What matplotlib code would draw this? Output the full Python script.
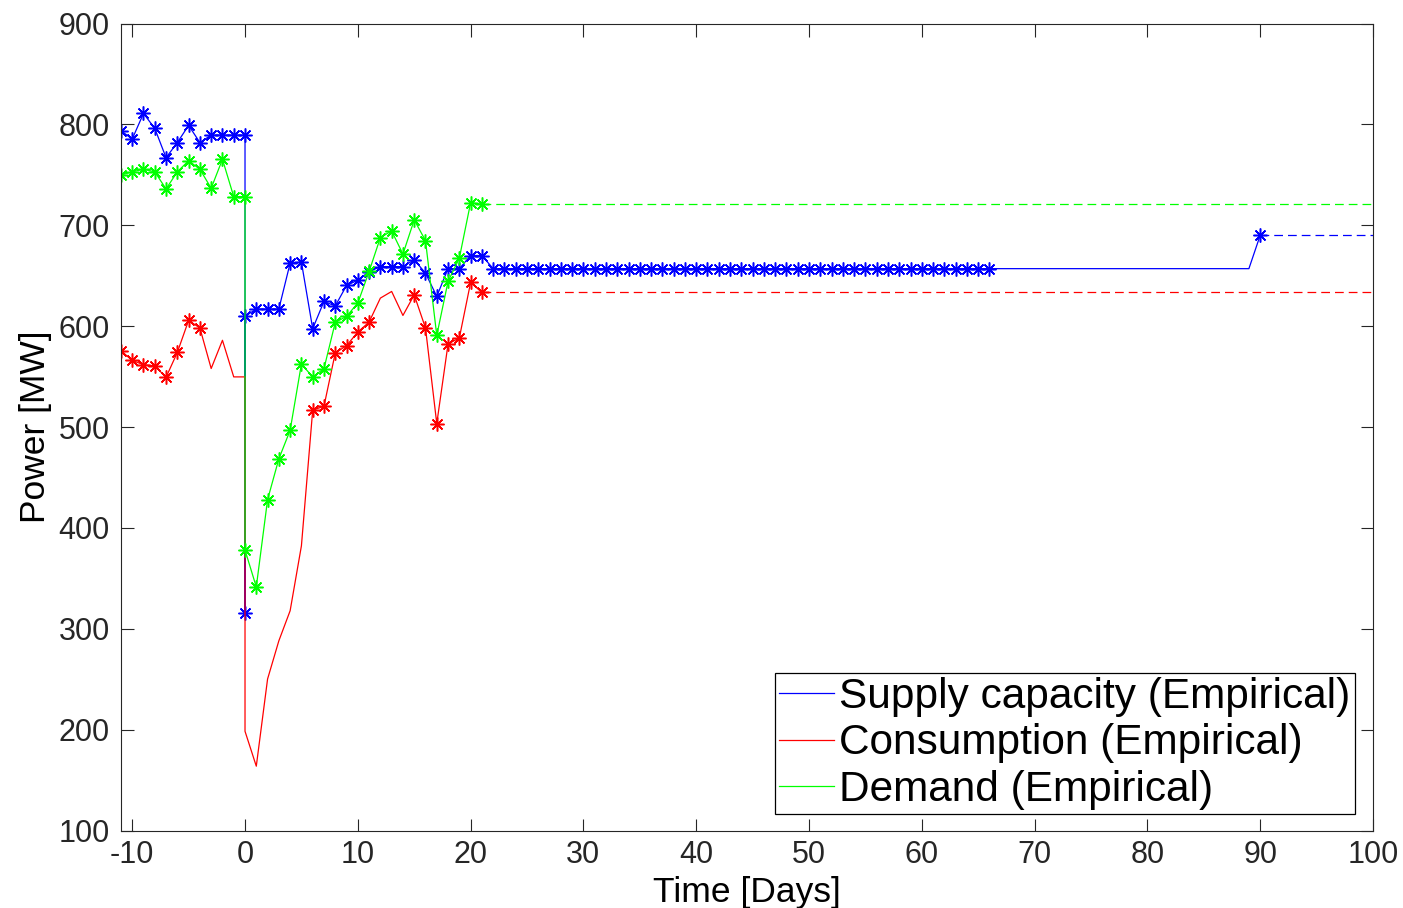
import matplotlib
matplotlib.use("Agg")
import matplotlib.pyplot as plt
from matplotlib.lines import Line2D

plt.rcParams["font.family"] = ["Liberation Sans", "DejaVu Sans"]
plt.rcParams["axes.unicode_minus"] = False

# supply capacity (blue) - two extra points at day 0 for the drop
supply_days = list(range(-11, 1)) + [0, 0] + list(range(1, 22)) + list(range(22, 67)) + [89, 90]
supply_values = [
    793.7, 785.5, 810.9, 796, 767, 782, 799, 782, 789.4, 789.4, 789.4, 789.4,
    316, 609.7,
    617, 617, 617, 662.5, 663.5, 597.5, 624.5, 620, 640.3, 645.6, 654,
    659, 659, 659, 665.7, 652.6, 629.5, 657, 657, 670, 670,
    657, 657, 657, 657, 657, 657, 657, 657, 657, 657, 657, 657, 657, 657, 657,
    657, 657, 657, 657, 657, 657, 657, 657, 657, 657, 657, 657, 657, 657, 657,
    657, 657, 657, 657, 657, 657, 657, 657, 657, 657, 657, 657, 657, 657, 657,
    657, 690,
]
supply_marked = [True] * (len(supply_values) - 2) + [False, True]

consumption_days = list(range(-11, 1)) + [0] + list(range(1, 22))
consumption_values = [
    575.7, 566, 561.8, 560.6, 549.3, 574, 605.7, 598.2, 558, 586, 549.7, 549.7,
    198.4,
    163.8, 250.2, 288.1, 317.9, 382.2, 516.7, 520.6, 573.4, 580.6, 594.2, 604,
    627.8, 634.4, 610.6, 631, 598.2, 503.4, 582.3, 588.3, 643.3, 633.4,
]
# days that carry a measurement marker
consumption_marked_days = [-11, -10, -9, -8, -7, -6, -5, -4,
                           6, 7, 8, 9, 10, 11, 15, 16, 17, 18, 19, 20, 21]

demand_days = list(range(-11, 1)) + [0] + list(range(1, 22))
demand_values = [
    749.8, 753, 755.5, 753, 736, 753, 764, 755.5, 736.7, 765.4, 728.4, 728.4,
    378,
    341.5, 428, 468.5, 496.8, 562.5, 549.6, 557.9, 603.7, 609.7, 622.9, 654.2,
    687.8, 694.4, 671.4, 705.3, 684.8, 590.8, 644.3, 667.4, 722.4, 720.8,
]

projection_end = 100
legend_labels = ["Supply capacity (Empirical)", "Consumption (Empirical)", "Demand (Empirical)"]
x_ticks = list(range(-10, 101, 10))
y_ticks = list(range(100, 901, 100))

BLUE, RED, GREEN = "#0000ff", "#ff0000", "#00ff00"
AXIS_GRAY = "#262626"
ASTERISK = (8, 2, 0)


def main() -> None:
    fig = plt.figure(figsize=(14.03, 9.08), dpi=100)
    ax = fig.add_axes([0.0862, 0.0853, 0.8924, 0.8888])

    line_kw = dict(lw=0.9, marker=ASTERISK, ms=10, mew=1.1)

    ax.plot(supply_days, supply_values, color=BLUE, markevery=supply_marked, **line_kw)
    cons_mask = [d in consumption_marked_days for d in consumption_days]
    # the second day-0 point (the drop) has no marker
    cons_mask[12] = False
    ax.plot(consumption_days, consumption_values, color=RED, markevery=cons_mask, **line_kw)
    ax.plot(demand_days, demand_values, color=GREEN, **line_kw)

    # dashed projections of the last known level
    dash_kw = dict(lw=0.9, dashes=(7, 4))
    ax.plot([supply_days[-1], projection_end], [supply_values[-1]] * 2, color=BLUE, **dash_kw)
    ax.plot([consumption_days[-1], projection_end], [consumption_values[-1]] * 2, color=RED, **dash_kw)
    ax.plot([demand_days[-1], projection_end], [demand_values[-1]] * 2, color=GREEN, **dash_kw)

    ax.set_xlim(-11, 100)
    ax.set_ylim(100, 900)
    ax.set_xticks(x_ticks)
    ax.set_yticks(y_ticks)
    ax.tick_params(direction="in", length=9, width=0.8, colors=AXIS_GRAY, labelsize=22,
                   top=True, right=True)
    ax.tick_params(axis="x", pad=7)
    ax.tick_params(axis="y", pad=8)
    for spine in ax.spines.values():
        spine.set_color(AXIS_GRAY)
        spine.set_linewidth(0.8)

    ax.set_xlabel("Time [Days]", fontsize=25.5, labelpad=4)
    ax.set_ylabel("Power [MW]", fontsize=25.5, labelpad=5)

    handles = [Line2D([], [], color=c, lw=0.9) for c in (BLUE, RED, GREEN)]
    leg = ax.legend(handles, legend_labels, loc="lower right", bbox_to_anchor=(0.9856, 0.0204),
                    borderaxespad=0, fontsize=30.5, frameon=True, fancybox=False, framealpha=1,
                    edgecolor="black", handlelength=1.3, handletextpad=0.12,
                    labelspacing=0.15, borderpad=0.1)
    leg.get_frame().set_linewidth(0.9)

    fig.savefig("out.png", dpi=100, facecolor="white")
    plt.close(fig)


if __name__ == "__main__":
    main()
